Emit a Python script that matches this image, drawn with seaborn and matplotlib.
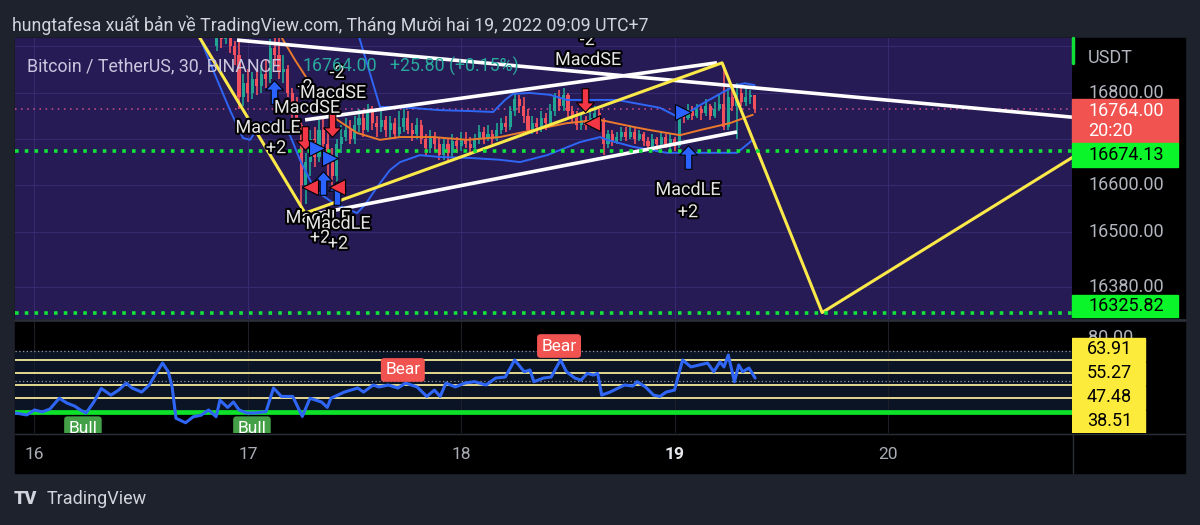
import matplotlib
matplotlib.use("Agg")
import matplotlib.pyplot as plt
import matplotlib.patheffects as pe
import matplotlib.transforms as mtrans
from matplotlib.patches import Rectangle
from matplotlib.lines import Line2D
from matplotlib.path import Path
import seaborn as sns
import pandas as pd
import numpy as np

# ---------------- data ----------------
# BTC/USDT 30m bars, 16 Dec 20:30 -> 19 Dec 09:00 (UTC+7)
bar_times = pd.date_range("2022-12-16 20:30", "2022-12-19 09:00", freq="30min")
first_open = 16900
closes = [16925, 16915, 16930, 16900, 16880, 16790, 16820, 16800, 16830, 16815,
          16840, 16830, 16895, 16880, 16845, 16850, 16800, 16770, 16730, 16600,
          16650, 16700, 16660, 16720, 16690, 16650, 16620, 16690, 16705, 16720,
          16700, 16730, 16745, 16720, 16760, 16735, 16725, 16740, 16720, 16735,
          16710, 16725, 16745, 16720, 16710, 16730, 16700, 16680, 16705, 16690,
          16665, 16690, 16670, 16695, 16685, 16700, 16690, 16680, 16700, 16715,
          16700, 16710, 16700, 16720, 16735, 16725, 16760, 16785, 16770, 16750,
          16720, 16735, 16725, 16745, 16735, 16760, 16790, 16770, 16795, 16760,
          16745, 16730, 16740, 16730, 16745, 16755, 16740, 16690, 16710, 16695,
          16705, 16715, 16705, 16715, 16700, 16710, 16695, 16685, 16700, 16690,
          16705, 16690, 16700, 16685, 16755, 16745, 16760, 16750, 16765, 16755,
          16770, 16750, 16765, 16775, 16725, 16790, 16770, 16800, 16780, 16790,
          16795, 16764]
highs = [16940, 16935, 16945, 16935, 16910, 16910, 16840, 16850, 16845, 16850,
         16860, 16870, 16915, 16930, 16920, 16880, 16860, 16810, 16790, 16740,
         16670, 16720, 16725, 16740, 16745, 16720, 16680, 16700, 16730, 16745,
         16740, 16750, 16765, 16755, 16775, 16770, 16750, 16760, 16750, 16750,
         16745, 16760, 16765, 16760, 16735, 16745, 16740, 16710, 16720, 16715,
         16705, 16700, 16700, 16710, 16705, 16715, 16715, 16705, 16710, 16730,
         16725, 16730, 16720, 16735, 16745, 16750, 16770, 16800, 16795, 16790,
         16765, 16750, 16745, 16760, 16755, 16775, 16800, 16805, 16810, 16800,
         16770, 16760, 16755, 16750, 16760, 16770, 16765, 16745, 16720, 16720,
         16715, 16725, 16725, 16730, 16725, 16720, 16715, 16705, 16710, 16705,
         16715, 16710, 16710, 16705, 16765, 16765, 16775, 16770, 16775, 16770,
         16785, 16775, 16780, 16795, 16860, 16810, 16815, 16820, 16815, 16810,
         16805, 16790]
lows = [16890, 16895, 16905, 16885, 16860, 16765, 16770, 16780, 16785, 16795,
        16800, 16810, 16820, 16860, 16830, 16820, 16790, 16740, 16715, 16545,
        16560, 16620, 16640, 16650, 16670, 16620, 16600, 16590, 16670, 16695,
        16690, 16690, 16715, 16705, 16715, 16720, 16705, 16715, 16705, 16700,
        16700, 16705, 16715, 16710, 16695, 16700, 16690, 16665, 16670, 16675,
        16655, 16655, 16650, 16660, 16670, 16675, 16680, 16665, 16670, 16690,
        16690, 16695, 16690, 16695, 16710, 16715, 16720, 16750, 16755, 16735,
        16710, 16710, 16710, 16715, 16720, 16730, 16750, 16760, 16760, 16745,
        16735, 16720, 16720, 16720, 16725, 16735, 16730, 16665, 16680, 16685,
        16690, 16695, 16695, 16700, 16690, 16695, 16685, 16675, 16680, 16675,
        16680, 16680, 16675, 16675, 16680, 16735, 16740, 16740, 16745, 16740,
        16750, 16740, 16745, 16760, 16720, 16720, 16760, 16700, 16770, 16770,
        16775, 16755]

# Bollinger bands (x = day of December, fractional)
bb_up_x = [17.45, 17.511, 17.619, 17.760, 17.900, 18.041, 18.149, 18.205, 18.242, 18.322,
           18.416, 18.495, 18.603, 18.730, 18.837, 18.931, 19.025, 19.119, 19.227, 19.292,
           19.329, 19.375]
bb_up_y = [16990, 16935, 16769, 16767, 16762, 16760, 16758, 16784, 16797, 16799,
           16795, 16784, 16784, 16784, 16775, 16767, 16745, 16773, 16801, 16816,
           16820, 16816]
bb_mid_x = [17.12, 17.160, 17.221, 17.291, 17.399, 17.511, 17.619, 17.713, 17.867, 18.027,
            18.181, 18.336, 18.495, 18.650, 18.805, 18.884, 19.025, 19.119, 19.259, 19.366]
bb_mid_y = [16960, 16917, 16870, 16820, 16747, 16713, 16698, 16704, 16704, 16698,
            16704, 16719, 16734, 16741, 16726, 16719, 16708, 16719, 16734, 16752]
bb_lo_x = [16.74, 16.776, 16.846, 16.916, 16.977, 17.010, 17.047, 17.104, 17.150, 17.197,
           17.244, 17.314, 17.399, 17.478, 17.511, 17.549, 17.605, 17.666, 17.713, 17.806,
           17.900, 18.041, 18.181, 18.275, 18.402, 18.556, 18.650, 18.683, 18.805, 18.964,
           19.039, 19.292, 19.366]
bb_lo_y = [16960, 16917, 16838, 16762, 16702, 16698, 16724, 16736, 16730, 16708,
           16655, 16590, 16562, 16547, 16540, 16558, 16596, 16633, 16650, 16665,
           16661, 16659, 16655, 16650, 16665, 16693, 16704, 16698, 16683, 16670,
           16670, 16670, 16698]

# drawings
zigzag_x = [16.70, 17.268, 19.222, 19.691, 21.0]
zigzag_y = [16975, 16540, 16864, 16325.82, 16699]
white_lines = [([16.949, 21.0], [16913, 16741]),
               ([17.268, 19.198], [16741, 16864]),
               ([17.291, 19.292], [16536, 16715])]
last_price = 16764.00
level_hi = 16674.13
level_lo = 16325.82
price_ticks = [16800, 16600, 16500, 16380]
grid_prices = [16900, 16800, 16700, 16600, 16500, 16380]
day_ticks = [16, 17, 18, 19, 20]

# RSI panel
rsi_x = [15.910, 15.964, 16.000, 16.036, 16.072, 16.116, 16.152, 16.188, 16.215, 16.242,
         16.278, 16.313, 16.358, 16.394, 16.430, 16.457, 16.502, 16.538, 16.565, 16.600,
         16.627, 16.645, 16.663, 16.708, 16.744, 16.780, 16.816, 16.851, 16.869, 16.905,
         16.932, 16.959, 16.995, 17.031, 17.085, 17.120, 17.157, 17.210, 17.255, 17.291,
         17.345, 17.372, 17.389, 17.452, 17.515, 17.542, 17.587, 17.614, 17.658, 17.703,
         17.739, 17.793, 17.838, 17.874, 17.901, 17.928, 17.972, 18.017, 18.062, 18.116,
         18.161, 18.206, 18.250, 18.295, 18.322, 18.340, 18.385, 18.421, 18.465, 18.493,
         18.532, 18.561, 18.590, 18.619, 18.639, 18.658, 18.697, 18.736, 18.765, 18.804,
         18.824, 18.863, 18.901, 18.931, 18.960, 18.999, 19.037, 19.076, 19.115, 19.154,
         19.183, 19.212, 19.231, 19.251, 19.280, 19.300, 19.319, 19.348, 19.377]
rsi_y = [28.7, 27.4, 30.7, 29.4, 31.3, 38.5, 35.3, 33.3, 30.7, 28.7,
         36.0, 45.0, 40.6, 43.9, 48.6, 45.3, 42.6, 47.3, 53.9, 61.9,
         56.1, 46.0, 25.2, 22.2, 26.2, 27.2, 30.7, 26.2, 37.2, 32.4,
         36.0, 30.7, 28.7, 28.7, 29.6, 45.3, 39.7, 39.7, 26.4, 38.5,
         36.0, 32.4, 38.5, 42.6, 45.3, 42.6, 47.3, 46.0, 47.3, 45.3,
         48.6, 46.0, 39.7, 43.9, 39.7, 48.6, 46.0, 48.6, 49.5, 47.3,
         51.9, 52.6, 63.9, 56.1, 57.3, 49.5, 51.9, 52.6, 63.9, 56.1,
         51.9, 50.5, 55.0, 53.9, 55.0, 40.6, 42.6, 45.3, 47.3, 46.6,
         49.5, 46.0, 40.6, 39.7, 42.6, 43.9, 63.9, 59.3, 60.6, 61.9,
         56.1, 62.6, 59.3, 67.2, 49.5, 60.6, 56.1, 58.6, 51.9]
rsi_levels = [63.91, 55.27, 47.48, 38.51]
rsi_dotted = [70, 50, 30]
rsi_green = 29.6

# ---------------- style ----------------
BG = "#1e222d"
PURPLE = "#261b55"
TEAL = "#22a592"
RED = "#f2505c"
BLUE = "#2f66f5"
W, H = 1200, 525

sns.set_style("dark")
plt.rcParams['font.family'] = ['Roboto', 'DejaVu Sans']


def rect(l, t, r, b):
    return [l / W, 1 - b / H, (r - l) / W, (b - t) / H]


def fx(px):
    return px / W


def fy(py):
    return 1 - py / H


# day axis: day 16 at x=34.5px, 213.4 px per day
XMIN = 16 + (15 - 34.5) / 213.4
XMAX = 16 + (1072 - 34.5) / 213.4
# price axis: 16800 at y=92.5px, 0.464 px per USDT
YTOP = 16800 + (92.5 - 38) / 0.464
YBOT = 16800 - (319 - 92.5) / 0.464
# rsi axis: 63.91 at y=360px, 1.505 px per point
RTOP = 63.91 + (360 - 321) / 1.505
RBOT = 63.91 - (433 - 360) / 1.505

fig = plt.figure(figsize=(12, 5.25), dpi=100, facecolor=BG)

# black frame behind panels
fig.add_artist(Rectangle((fx(15), fy(473)), fx(1185) - fx(15), fy(38) - fy(473),
                         transform=fig.transFigure, color="black", zorder=0))

ax = fig.add_axes(rect(15, 38, 1072, 319))
pax = fig.add_axes(rect(1072, 38, 1185, 319))
rax = fig.add_axes(rect(15, 321, 1072, 433))
rpax = fig.add_axes(rect(1072, 321, 1185, 433))
tax = fig.add_axes(rect(15, 434, 1185, 473))

for a in (ax, pax, rax, rpax, tax):
    a.set_xticks([])
    a.set_yticks([])
    for s in a.spines.values():
        s.set_visible(False)
ax.set_facecolor(PURPLE)
for a in (pax, rax, rpax, tax):
    a.set_facecolor("black")

# ---------------- main price panel ----------------
ax.set_xlim(XMIN, XMAX)
ax.set_ylim(YBOT, YTOP)
for g in grid_prices:
    ax.axhline(g, color="#362b6c", lw=0.8, zorder=1)
for d in day_ticks:
    ax.axvline(d, color="#362b6c", lw=0.8, zorder=1)

ax.axhline(last_price, color="#d24f8c", ls=(0, (1, 3)), lw=1.1, zorder=2)
for lv in (level_hi, level_lo):
    ax.axhline(lv, color="#12e43a", ls=(0, (1, 1.7)), lw=2.6, zorder=6,
               dash_capstyle="butt")

x = bar_times.day + bar_times.hour / 24 + bar_times.minute / 1440
df = pd.DataFrame({"x": x, "close": closes, "high": highs, "low": lows})
df["open"] = [first_open] + closes[:-1]
col = np.where(df["close"] >= df["open"], TEAL, RED)
ax.vlines(df["x"], df["low"], df["high"], colors=col, lw=1.2, zorder=3)
body = (df["close"] - df["open"]).abs().clip(lower=2)
ax.bar(df["x"], body, bottom=np.minimum(df["open"], df["close"]), width=0.0145,
       color=col, edgecolor=col, linewidth=0, zorder=3)

sns.lineplot(x=bb_up_x, y=bb_up_y, ax=ax, color=BLUE, lw=1.4, zorder=4)
sns.lineplot(x=bb_lo_x, y=bb_lo_y, ax=ax, color=BLUE, lw=1.4, zorder=4)
sns.lineplot(x=bb_mid_x, y=bb_mid_y, ax=ax, color="#ec7a2c", lw=1.4, zorder=4)

for wx, wy in white_lines:
    ax.plot(wx, wy, color="white", lw=2.6, zorder=5, solid_capstyle="butt")
ax.plot(zigzag_x, zigzag_y, color="#fbe94a", lw=2.2, zorder=5)
ax.set_xlim(XMIN, XMAX)
ax.set_ylim(YBOT, YTOP)
ax.set_xlabel("")
ax.set_ylabel("")

# strategy signals
up_arrow = Path([(0, 1), (0.75, 0.2), (0.28, 0.2), (0.28, -1), (-0.28, -1),
                 (-0.28, 0.2), (-0.75, 0.2), (0, 1)], closed=True)
down_arrow = Path([(0, -1), (0.75, -0.2), (0.28, -0.2), (0.28, 1), (-0.28, 1),
                   (-0.28, -0.2), (-0.75, -0.2), (0, -1)], closed=True)
sig_up = ([17.122, 17.352, 17.418, 19.062], [16801, 16605, 16583, 16661])
sig_down = ([17.268, 17.394, 18.580], [16702, 16730, 16784])
sig_right = ([17.324, 17.385, 19.039], [16680, 16659, 16758])
sig_left = ([17.291, 17.418, 18.613], [16596, 16596, 16734])
ax.plot(*sig_up, ls="none", marker=up_arrow, ms=17, color="#2962ff", mec="black", mew=0.8, zorder=8)
ax.plot(*sig_down, ls="none", marker=down_arrow, ms=17, color="#f23645", mec="black", mew=0.8, zorder=8)
ax.plot(*sig_right, ls="none", marker=">", ms=11, color="#2962ff", mec="black", mew=0.8, zorder=8)
ax.plot(*sig_left, ls="none", marker="<", ms=11, color="#f23645", mec="black", mew=0.8, zorder=8)

outline = [pe.withStroke(linewidth=3, foreground="black")]
annots = [("-2", 18.590, 16913), ("MacdSE", 18.594, 16870), ("-2", 17.268, 16812),
          ("-2", 17.418, 16842), ("MacdSE", 17.399, 16799), ("MacdSE", 17.277, 16767),
          ("MacdLE", 17.094, 16724), ("+2", 17.132, 16680), ("MacdLE", 17.329, 16530),
          ("MacdLE", 17.422, 16517), ("+2", 17.338, 16487), ("+2", 17.422, 16474),
          ("MacdLE", 19.062, 16590), ("+2", 19.062, 16542)]
for t, ax_x, ax_y in annots:
    ax.text(ax_x, ax_y, t, color="#e4e4e4", fontsize=13, ha="center", va="center",
            path_effects=outline, zorder=9, clip_on=True)

# legend line
fig.text(fx(27), fy(66), "Bitcoin / TetherUS, 30, BINANCE", color="#cbc5de",
         fontsize=12.8, va="center", zorder=20)
fig.text(fx(302), fy(66), "16764.00", color="#2aa89c", fontsize=12.8, va="center", zorder=20)
fig.text(fx(390), fy(66), "+25.80 (+0.15%)", color="#2aa89c", fontsize=12.8, va="center", zorder=20)

# ---------------- price scale ----------------
pax.set_xlim(0, 113)
pax.set_ylim(YBOT, YTOP)
PP = 1 / 0.464  # USDT per pixel
pax.text(16, 0.929, "USDT", transform=mtrans.blended_transform_factory(pax.transData, pax.transAxes),
         color="#b2b5be", fontsize=13, va="center")
for p in price_ticks:
    pax.text(16, p, f"{p:.2f}", color="#b2b5be", fontsize=13, va="center", zorder=2)


def price_box(value, top_px, bot_px, color, lines, fg):
    pax.add_patch(Rectangle((0, value - bot_px * PP), 106, (bot_px - top_px) * PP,
                            color=color, zorder=5, clip_on=False))
    for txt, off in lines:
        pax.text(16, value - off * PP, txt, color=fg, fontsize=13, va="center",
                 zorder=6, clip_on=False)


price_box(last_price, -10.7, 33.3, "#f05350", [(f"{last_price:.2f}", 1.3), ("20:20", 21.3)], "white")
price_box(level_hi, -8, 16, "#0af52a", [(f"{level_hi:.2f}", 4)], "black")
price_box(level_lo, -17.5, 4.5, "#0af52a", [(f"{level_lo:.2f}", -6.5)], "black")
fig.add_artist(Line2D([fx(1073), fx(1073)], [fy(38), fy(63)], color="#10e035", lw=2.5))

# ---------------- RSI panel ----------------
rax.set_xlim(XMIN, XMAX)
rax.set_ylim(RBOT, RTOP)
rax.axhspan(30, 70, color="#0b1424", zorder=0)
for d in day_ticks:
    rax.axvline(d, color="#1c1f27", lw=0.8, zorder=1)
for lv in rsi_dotted:
    rax.axhline(lv, color="#9598a1", ls=(0, (1, 2)), lw=0.9, zorder=2)
for lv in rsi_levels:
    rax.axhline(lv, color="#e3d98f", lw=1.4, zorder=2)
rax.axhline(rsi_green, color="#0ee12a", lw=3.4, zorder=3)
sns.lineplot(x=rsi_x, y=rsi_y, ax=rax, color=BLUE, lw=2.2, zorder=4)
rax.set_xlim(XMIN, XMAX)
rax.set_ylim(RBOT, RTOP)
rax.set_xlabel("")
rax.set_ylabel("")

for txt, lx, ly, c in [("Bear", 17.726, 57.3, "#f05350"), ("Bear", 18.458, 73.2, "#f05350"),
                       ("Bull", 16.227, 18.6, "#43a047"), ("Bull", 17.019, 18.6, "#43a047")]:
    rax.text(lx, ly, txt, color="white", fontsize=12.5, ha="center", va="center", zorder=6,
             clip_on=True, bbox=dict(boxstyle="round,pad=0.25,rounding_size=0.2",
                                     facecolor=c, edgecolor="none"))

rpax.set_xlim(0, 113)
rpax.set_ylim(0, 112)
rpax.text(16, 112 - 17, "80.00", color="#b2b5be", fontsize=13, va="center", zorder=1)
for i, v in enumerate(rsi_levels):
    top = 17 + i * 24
    rpax.add_patch(Rectangle((0, 112 - top - 23), 73, 23, color="#fdeb3c", zorder=3))
    rpax.text(15, 112 - top - 11.5, f"{v:.2f}", color="black", fontsize=13,
              va="center", zorder=4)

# ---------------- time scale ----------------
tax.set_xlim(XMIN, 16 + (1185 - 34.5) / 213.4)
tax.set_ylim(0, 1)
for d in day_ticks:
    bold = d == 19
    tax.text(d, 0.47, str(d), color="#e6e8ee" if bold else "#a9acb5", fontsize=12.5,
             ha="center", va="center", fontweight="bold" if bold else "normal")

# separators
fig.add_artist(Line2D([fx(15), fx(1185)], [fy(320), fy(320)], color="#2a2e39", lw=2))
fig.add_artist(Line2D([fx(15), fx(1185)], [fy(433.5), fy(433.5)], color="#2a2e39", lw=1))
fig.add_artist(Line2D([fx(1072.5), fx(1072.5)], [fy(434), fy(473)], color="#2a2e39", lw=1))

# header & footer
fig.text(fx(12), fy(25), "hungtafesa xuất bản về TradingView.com, Tháng Mười hai 19, 2022 09:09 UTC+7",
         color="#d1d4dc", fontsize=12.8, va="center")
fig.text(fx(14), fy(499), "TV", color="#d1d4dc", fontsize=13, fontweight="black", va="center")
fig.text(fx(47), fy(499), "TradingView", color="#d1d4dc", fontsize=13, va="center")

fig.savefig("out.png", dpi=100, facecolor=BG)
